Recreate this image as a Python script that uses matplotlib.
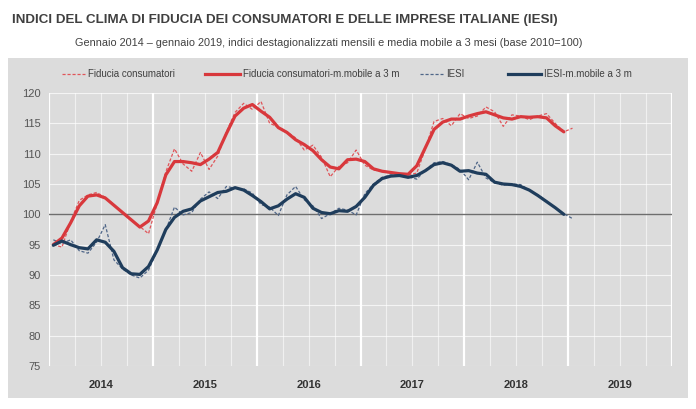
import numpy as np
import matplotlib
matplotlib.use("Agg")
import matplotlib.pyplot as plt
from matplotlib.patches import Rectangle
from matplotlib.lines import Line2D

# monthly values, Jan 2014 .. Jan 2019
fiducia_cons = [95.0, 94.6, 98.8, 102.3, 103.2, 103.6, 102.8, 101.6, 100.2, 99.0, 98.0, 96.8,
                101.8, 107.0, 110.8, 108.3, 107.1, 110.2, 107.4, 109.6, 113.6, 116.8, 118.3, 117.3,
                118.6, 115.0, 114.4, 113.6, 112.6, 110.6, 111.4, 109.4, 106.2, 107.9, 108.5, 110.6,
                108.1, 107.3, 107.1, 107.0, 106.6, 106.5, 106.8, 110.8, 115.3, 115.8, 114.6, 116.6,
                115.8, 116.2, 117.7, 116.9, 114.5, 116.4, 116.2, 115.6, 116.2, 116.6, 115.0, 113.6,
                114.2]
# 3-month moving average, Jan 2014 .. Dec 2018
fiducia_cons_mm = [95.0, 96.1, 98.6, 101.4, 103.0, 103.2, 102.7, 101.5, 100.3, 99.1, 97.9, 98.9,
                   101.9, 106.5, 108.7, 108.7, 108.5, 108.2, 109.1, 110.2, 113.3, 116.2, 117.5, 118.1,
                   117.0, 116.0, 114.3, 113.5, 112.3, 111.5, 110.5, 109.0, 107.8, 107.5, 109.0, 109.1,
                   108.7, 107.5, 107.1, 106.9, 106.7, 106.6, 108.0, 111.0, 114.0, 115.2, 115.7, 115.7,
                   116.2, 116.6, 116.9, 116.4, 115.9, 115.7, 116.1, 116.0, 116.1, 115.9, 114.6, 113.6]

iesi = [95.8, 95.2, 95.8, 94.0, 93.6, 95.4, 98.3, 92.5, 91.0, 90.0, 89.5, 90.8,
        94.0, 97.4, 101.2, 99.9, 100.3, 102.5, 103.7, 102.6, 104.6, 104.3, 104.2, 103.5,
        101.6, 101.2, 99.8, 103.2, 104.6, 102.4, 101.4, 99.3, 100.1, 101.0, 100.7, 99.9,
        103.4, 105.0, 106.1, 106.5, 106.4, 106.2, 105.8, 107.3, 108.5, 108.7, 108.2, 107.4,
        105.7, 108.6, 106.0, 105.2, 104.8, 105.0, 104.9, 104.0, 103.2, 102.2, 101.0, 100.1,
        99.3]
iesi_mm = [94.9, 95.6, 95.0, 94.5, 94.3, 95.8, 95.4, 93.9, 91.2, 90.2, 90.1, 91.4,
           94.1, 97.5, 99.5, 100.5, 100.9, 102.2, 102.9, 103.6, 103.8, 104.4, 104.0, 103.1,
           102.1, 100.9, 101.4, 102.5, 103.4, 102.8, 101.0, 100.3, 100.1, 100.6, 100.5, 101.3,
           102.8, 104.8, 105.9, 106.3, 106.4, 106.1, 106.4, 107.2, 108.2, 108.5, 108.1, 107.1,
           107.2, 106.8, 106.6, 105.3, 105.0, 104.9, 104.6, 104.0, 103.1, 102.1, 101.1, 100.0]

years = ["2014", "2015", "2016", "2017", "2018", "2019"]
yticks = [75, 80, 85, 90, 95, 100, 105, 110, 115, 120]

RED = "#d8383c"
RED_D = "#e0555a"
NAVY = "#1f3d5c"
BLUE_D = "#4f6688"
GRAY_BG = "#dcdcdc"
TXT = "#404040"
FONT = ["Liberation Sans", "DejaVu Sans"]

fig = plt.figure(figsize=(6.96, 4.09), dpi=100)
fig.patch.set_facecolor("white")

# grey panel behind chart and legend
fig.patches.append(Rectangle((8 / 696, 1 - 398 / 409), 680 / 696, 340 / 409,
                             transform=fig.transFigure, facecolor=GRAY_BG,
                             edgecolor="none", zorder=-5))

ax = fig.add_axes([49 / 696, 1 - 366 / 409, 623 / 696, 273 / 409])
ax.set_zorder(2)
ax.set_facecolor(GRAY_BG)
for s in ax.spines.values():
    s.set_visible(False)

m = np.arange(len(fiducia_cons))
m_mm = np.arange(len(fiducia_cons_mm))

ax.set_xlim(-0.5, 71.5)
ax.set_ylim(75, 120)

# grid: quarters thin, years thicker
for q in np.arange(-0.5, 72, 3):
    major = (q + 0.5) % 12 == 0
    ax.axvline(q, color="white", lw=1.6 if major else 0.8,
               alpha=1.0 if major else 0.6, zorder=1)
for yv in yticks:
    ax.axhline(yv, color="white", lw=0.8, alpha=0.7, zorder=1)
ax.axhline(100, color="#6e6e6e", lw=1.0, zorder=2)

ax.plot(m, fiducia_cons, color=RED_D, lw=0.9, ls=(0, (2.5, 1.5)), zorder=3)
ax.plot(m, iesi, color=BLUE_D, lw=0.9, ls=(0, (2.5, 1.5)), zorder=3)
ax.plot(m_mm, fiducia_cons_mm, color=RED, lw=2.3, solid_capstyle="round", zorder=4)
ax.plot(m_mm, iesi_mm, color=NAVY, lw=2.3, solid_capstyle="round", zorder=4)

ax.set_yticks(yticks)
ax.set_yticklabels([str(v) for v in yticks], family=FONT, fontsize=8, color="#555555")
ax.set_xticks([5.5 + 12 * i for i in range(len(years))])
ax.set_xticklabels(years, family=FONT, fontsize=8, fontweight="bold", color="#333333")
ax.tick_params(length=0, pad=6)
ax.tick_params(axis="x", pad=10)

# legend: one entry per block, placed like the original
entries = [
    (Line2D([], [], color=RED_D, lw=0.9, ls=(0, (2.5, 1.5))), "Fiducia consumatori", 62, 2.4),
    (Line2D([], [], color=RED, lw=2.3), "Fiducia consumatori-m.mobile a 3 m", 205, 3.6),
    (Line2D([], [], color=BLUE_D, lw=0.9, ls=(0, (2.5, 1.5))), "IESI", 420, 2.4),
    (Line2D([], [], color=NAVY, lw=2.3), "IESI-m.mobile a 3 m", 508, 3.4),
]
for h, lab, xpx, hl in entries:
    leg = fig.legend([h], [lab], loc="center left", bbox_to_anchor=(xpx / 696, 1 - 74 / 409),
                     frameon=False, handlelength=hl, handletextpad=0.3, borderpad=0,
                     borderaxespad=0, prop={"family": FONT, "size": 7})
    for t in leg.get_texts():
        t.set_color(TXT)

fig.text(12 / 696, 1 - 20 / 409, "INDICI DEL CLIMA DI FIDUCIA DEI CONSUMATORI E DELLE IMPRESE ITALIANE (IESI)",
         family=FONT, fontsize=9.6, fontweight="bold", color=TXT, va="center", ha="left")
fig.text(75 / 696, 1 - 43 / 409,
         "Gennaio 2014 \u2013 gennaio 2019, indici destagionalizzati mensili e media mobile a 3 mesi (base 2010=100)",
         family=FONT, fontsize=7.8, color=TXT, va="center", ha="left")

fig.savefig("out.png", dpi=100)
